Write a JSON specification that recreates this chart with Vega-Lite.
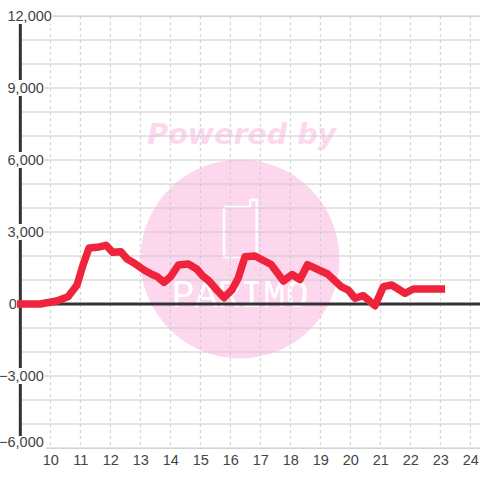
{
  "$schema": "https://vega.github.io/schema/vega-lite/v6.json",
  "width": 459.67,
  "height": 432,
  "autosize": "none",
  "padding": {"left": 20.33, "top": 16, "right": 0, "bottom": 32},
  "background": "white",
  "config": {"axis": {"labelOverlap": false, "labelSeparation": 0}},
  "datasets": {
    "series": [
      {"h":8.89,"v":0},{"h":9.66,"v":0},{"h":10.21,"v":125},{"h":10.59,"v":304},{"h":10.89,"v":792},{"h":11.09,"v":1625},{"h":11.29,"v":2333},{"h":11.56,"v":2363},{"h":11.86,"v":2446},{"h":12.08,"v":2154},{"h":12.35,"v":2179},{"h":12.56,"v":1875},{"h":12.79,"v":1708},{"h":13.12,"v":1417},{"h":13.38,"v":1238},{"h":13.56,"v":1138},{"h":13.79,"v":904},{"h":14.01,"v":1138},{"h":14.27,"v":1625},{"h":14.6,"v":1667},{"h":14.88,"v":1458},{"h":15.08,"v":1167},{"h":15.29,"v":958},{"h":15.55,"v":583},{"h":15.79,"v":263},{"h":16.05,"v":583},{"h":16.26,"v":1071},{"h":16.49,"v":1971},{"h":16.82,"v":2000},{"h":17.36,"v":1646},{"h":17.77,"v":958},{"h":18.06,"v":1229},{"h":18.32,"v":1021},{"h":18.57,"v":1638},{"h":19.24,"v":1250},{"h":19.69,"v":729},{"h":19.93,"v":583},{"h":20.16,"v":238},{"h":20.43,"v":346},{"h":20.82,"v":-71},{"h":21.1,"v":721},{"h":21.38,"v":792},{"h":21.82,"v":446},{"h":22.1,"v":625},{"h":23.16,"v":625}
    ],
    "hgrid": [{"v":-6000},{"v":-5000},{"v":-4000},{"v":-3000},{"v":-2000},{"v":-1000},{"v":1000},{"v":2000},{"v":3000},{"v":4000},{"v":5000},{"v":6000},{"v":7000},{"v":8000},{"v":9000},{"v":10000},{"v":11000},{"v":12000}],
    "vgrid": [{"h":10},{"h":11},{"h":12},{"h":13},{"h":14},{"h":15},{"h":16},{"h":17},{"h":18},{"h":19},{"h":20},{"h":21},{"h":22},{"h":23},{"h":24}],
    "gaps": [
      {"a":8.9,"b":10.07,"lo":11667,"hi":12040},
      {"a":8.9,"b":9.8,"lo":8667,"hi":9333},
      {"a":8.9,"b":9.8,"lo":5667,"hi":6333},
      {"a":8.9,"b":9.8,"lo":2667,"hi":3333},
      {"a":8.9,"b":9.8,"lo":-3333,"hi":-2667},
      {"a":8.9,"b":9.85,"lo":-6040,"hi":-5500}
    ],
    "phone": [
      {"o":1,"h":15.79,"v":4042},{"o":2,"h":16.66,"v":4042},{"o":3,"h":16.66,"v":4333},{"o":4,"h":16.88,"v":4333},{"o":5,"h":16.88,"v":1958},{"o":6,"h":15.79,"v":1958},{"o":7,"h":15.79,"v":4042}
    ]
  },
  "data": {"name": "series"},
  "layer": [
    {
      "data": {"values": [{"h":16.32,"v":1875}]},
      "mark": {"type":"point","shape":"circle","filled":true,"size":39601,"color":"#fcd7ee","opacity":1},
      "encoding": {"x":{"field":"h","type":"quantitative"},"y":{"field":"v","type":"quantitative"}}
    },
    {
      "data": {"values": [{"h":16.38,"v":7050,"t":"Powered by"}]},
      "mark": {"type":"text","font":"DejaVu Sans","fontWeight":"bold","fontStyle":"italic","fontSize":28.5,"color":"#fcd7ee","align":"center","baseline":"middle"},
      "encoding": {"x":{"field":"h","type":"quantitative"},"y":{"field":"v","type":"quantitative"},"text":{"field":"t"}}
    },
    {
      "data": {"name": "phone"},
      "mark": {"type":"line","color":"white","strokeWidth":2.5,"strokeJoin":"round"},
      "encoding": {"x":{"field":"h","type":"quantitative"},"y":{"field":"v","type":"quantitative"},"order":{"field":"o"}}
    },
    {
      "data": {"values": [{"h":16.33,"v":-125,"t":"PARIMO"}]},
      "mark": {"type":"text","font":"Liberation Mono","fontSize":38,"color":"white","align":"center","baseline":"alphabetic"},
      "encoding": {"x":{"field":"h","type":"quantitative"},"y":{"field":"v","type":"quantitative"},"text":{"field":"t"}}
    },
    {
      "data": {"name": "hgrid"},
      "mark": {"type":"rule","color":"#cccccc","strokeWidth":1.2},
      "encoding": {"y":{"field":"v","type":"quantitative"}}
    },
    {
      "data": {"name": "vgrid"},
      "mark": {"type":"rule","color":"#cccccc","strokeWidth":1,"strokeDash":[3,3]},
      "encoding": {"x":{"field":"h","type":"quantitative"}}
    },
    {
      "data": {"values": [{"h":9}]},
      "mark": {"type":"rule","color":"#333333","strokeWidth":3},
      "encoding": {"x":{"field":"h","type":"quantitative"}}
    },
    {
      "data": {"name": "gaps"},
      "mark": {"type":"rect","color":"white"},
      "encoding": {
        "x":{"field":"a","type":"quantitative"},"x2":{"field":"b"},
        "y":{"field":"lo","type":"quantitative"},"y2":{"field":"hi"}
      }
    },
    {
      "data": {"values": [{"v":0}]},
      "mark": {"type":"rule","color":"#333333","strokeWidth":3},
      "encoding": {"y":{"field":"v","type":"quantitative"}}
    },
    {
      "mark": {"type":"line","color":"#ef233c","strokeWidth":7.5,"strokeJoin":"round","strokeCap":"butt","clip":false},
      "encoding": {
        "x":{"field":"h","type":"quantitative","scale":{"domain":[9,24.322],"nice":false,"zero":false},
          "axis":{"values":[10,11,12,13,14,15,16,17,18,19,20,21,22,23,24],"tickCount":15,"title":null,"grid":false,"domain":false,"ticks":false,"zindex":1,"labelFont":"Liberation Sans","labelFontSize":14.5,"labelColor":"#444444","labelPadding":5,"labelFlush":false,"labelOverlap":false}},
        "y":{"field":"v","type":"quantitative","scale":{"domain":[-6000,12000],"nice":false,"zero":false},
          "axis":{"values":[-6000,-3000,0,3000,6000,9000,12000],"title":null,"grid":false,"domain":false,"ticks":false,"zindex":1,"labelFont":"Liberation Sans","labelFontSize":14.5,"labelColor":"#444444","labelBound":false,"labelOverlap":false,"format":",d",
            "labelPadding":{"condition":[{"test":"datum.value==12000","value":-31},{"test":"datum.value==0","value":4}],"value":-23},
            "labelOffset":{"condition":{"test":"datum.value==-6000","value":-6},"value":0}}}
      }
    }
  ]
}
